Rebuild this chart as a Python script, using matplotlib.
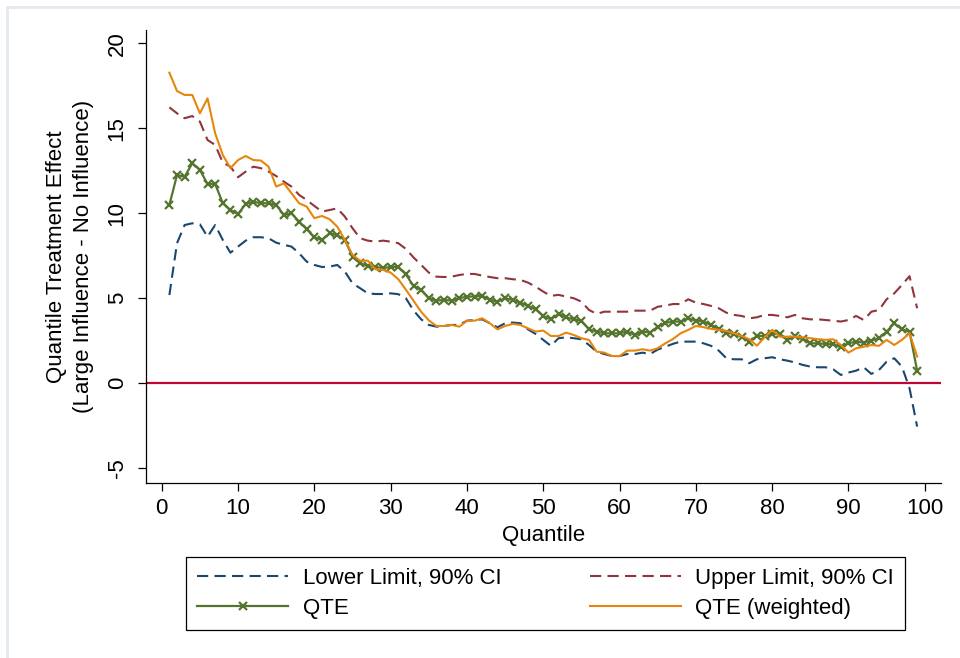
"""Quantile treatment effect plot (large vs no influence) with 90% CI bands."""

import matplotlib.pyplot as plt
import numpy as np
from matplotlib.patches import Rectangle

STYLE = {
    "font.family": ["Liberation Sans", "DejaVu Sans"],
    "font.size": 16,
    "axes.spines.top": False,
    "axes.spines.right": False,
    "axes.linewidth": 0.9,
    "axes.unicode_minus": False,
}

# Stata s2color-ish palette
PALETTE = {
    "lower": "#1a476f",
    "upper": "#90353b",
    "qte": "#55752f",
    "qte_w": "#e8850c",
    "zero": "#c10534",
}

quantiles = np.arange(1, 100)

lower_ci = [
    5.19, 8.24, 9.31, 9.41, 9.35, 8.62, 9.31, 8.43, 7.68, 8.04,
    8.39, 8.59, 8.59, 8.53, 8.27, 8.14, 8.04, 7.65, 7.15, 6.96,
    6.84, 6.86, 6.96, 6.57, 5.88, 5.59, 5.29, 5.25, 5.25, 5.29,
    5.24, 5.00, 4.28, 3.76, 3.43, 3.33, 3.37, 3.43, 3.43, 3.68,
    3.72, 3.76, 3.53, 3.29, 3.53, 3.57, 3.53, 3.17, 2.90, 2.55,
    2.20, 2.65, 2.70, 2.65, 2.59, 2.25, 1.86, 1.72, 1.60, 1.60,
    1.72, 1.72, 1.80, 1.72, 1.98, 2.15, 2.32, 2.45, 2.45, 2.45,
    2.35, 2.20, 1.92, 1.47, 1.41, 1.41, 1.18, 1.41, 1.47, 1.53,
    1.41, 1.33, 1.22, 1.08, 0.98, 0.94, 0.94, 0.82, 0.49, 0.63,
    0.74, 0.94, 0.55, 0.78, 1.27, 1.47, 0.98, -0.29, -2.55,
]

upper_ci = [
    16.23, 15.88, 15.59, 15.72, 15.39, 14.31, 14.02, 12.98, 12.74, 12.12,
    12.45, 12.74, 12.65, 12.45, 12.19, 11.86, 11.57, 11.08, 10.78, 10.43,
    10.10, 10.19, 10.29, 9.80, 9.12, 8.53, 8.39, 8.33, 8.39, 8.33,
    8.24, 7.90, 7.40, 6.96, 6.51, 6.27, 6.25, 6.27, 6.37, 6.43,
    6.43, 6.33, 6.25, 6.18, 6.18, 6.12, 6.08, 5.92, 5.68, 5.39,
    5.14, 5.20, 5.10, 5.00, 4.80, 4.31, 4.08, 4.21, 4.21, 4.21,
    4.21, 4.27, 4.27, 4.27, 4.50, 4.57, 4.66, 4.66, 4.94, 4.74,
    4.66, 4.55, 4.41, 4.15, 4.02, 3.96, 3.82, 3.88, 4.02, 4.02,
    3.96, 3.88, 4.02, 3.82, 3.76, 3.76, 3.72, 3.68, 3.63, 3.72,
    3.96, 3.72, 4.21, 4.31, 4.94, 5.29, 5.78, 6.30, 4.41,
]

qte = [
    10.49, 12.25, 12.15, 12.94, 12.55, 11.72, 11.72, 10.59, 10.19, 9.96,
    10.55, 10.68, 10.59, 10.59, 10.49, 9.90, 10.00, 9.51, 9.06, 8.59,
    8.43, 8.82, 8.72, 8.43, 7.45, 7.06, 6.90, 6.84, 6.78, 6.84,
    6.85, 6.40, 5.72, 5.50, 5.00, 4.86, 4.90, 4.86, 5.00, 5.10,
    5.10, 5.15, 4.90, 4.80, 5.00, 4.90, 4.74, 4.55, 4.35, 3.96,
    3.76, 4.08, 3.88, 3.76, 3.68, 3.17, 3.04, 2.94, 2.94, 2.94,
    3.04, 2.84, 3.04, 2.98, 3.33, 3.55, 3.63, 3.63, 3.82, 3.68,
    3.63, 3.43, 3.20, 2.98, 2.90, 2.74, 2.45, 2.78, 2.78, 2.90,
    2.90, 2.55, 2.78, 2.59, 2.35, 2.35, 2.31, 2.31, 2.12, 2.35,
    2.45, 2.39, 2.51, 2.65, 3.04, 3.53, 3.17, 3.04, 0.74,
]

qte_weighted = [
    18.27, 17.19, 16.96, 16.96, 15.88, 16.76, 14.70, 13.43, 12.65, 13.13,
    13.37, 13.13, 13.10, 12.74, 11.57, 11.76, 11.18, 10.59, 10.39, 9.71,
    9.84, 9.65, 9.21, 8.43, 7.55, 7.21, 7.21, 6.71, 6.67, 6.51,
    6.12, 5.50, 4.85, 4.20, 3.70, 3.37, 3.37, 3.43, 3.33, 3.68,
    3.68, 3.82, 3.53, 3.17, 3.37, 3.49, 3.43, 3.23, 3.04, 3.10,
    2.78, 2.78, 2.98, 2.84, 2.65, 2.55, 1.86, 1.80, 1.60, 1.60,
    1.92, 1.92, 2.00, 1.92, 2.06, 2.35, 2.60, 2.94, 3.14, 3.37,
    3.30, 3.20, 3.14, 3.08, 2.94, 2.78, 2.59, 2.21, 2.70, 3.14,
    2.74, 2.74, 2.74, 2.70, 2.65, 2.59, 2.55, 2.59, 2.25, 1.80,
    2.06, 2.15, 2.25, 2.20, 2.55, 2.25, 2.55, 2.94, 1.57,
]

x_ticks = np.arange(0, 101, 10)
y_ticks = [-5, 0, 5, 10, 15, 20]


def plot_qte(png_path="out.png"):
    dash = (5.4, 3.0)
    with plt.rc_context(STYLE):
        fig = plt.figure(figsize=(9.6, 6.58), dpi=100)
        ax = fig.add_axes([0.1518, 0.2664, 0.8282, 0.688])

        ax.axhline(0, color=PALETTE["zero"], linewidth=1.6, zorder=1)

        ax.plot(quantiles, lower_ci, color=PALETTE["lower"], linewidth=1.5,
                dashes=dash, label="Lower Limit, 90% CI")
        ax.plot(quantiles, upper_ci, color=PALETTE["upper"], linewidth=1.5,
                dashes=dash, label="Upper Limit, 90% CI")
        ax.plot(quantiles, qte, color=PALETTE["qte"], linewidth=1.6,
                marker="x", markersize=5.5, markeredgewidth=1.6, label="QTE")
        ax.plot(quantiles, qte_weighted, color=PALETTE["qte_w"], linewidth=1.5,
                label="QTE (weighted)")

        ax.set_xlim(-2.1, 102.1)
        ax.set_ylim(-5.85, 20.78)
        ax.set_xticks(x_ticks)
        ax.set_yticks(y_ticks)
        ax.tick_params(axis="both", length=6, width=0.9, labelsize=16)
        ax.tick_params(axis="y", pad=7)
        ax.tick_params(axis="x", pad=5)
        for lab in ax.get_yticklabels():
            lab.set_rotation(90)
            lab.set_verticalalignment("center")

        ax.set_xlabel("Quantile", fontsize=16, labelpad=4)
        ax.set_ylabel("Quantile Treatment Effect\n(Large Influence - No Influence)",
                      fontsize=16, labelpad=9, linespacing=1.4)

        handles, labels = ax.get_legend_handles_labels()
        order = [0, 2, 1, 3]
        leg = fig.legend([handles[i] for i in order], [labels[i] for i in order],
                         ncol=2, loc="upper left", mode="expand",
                         bbox_to_anchor=(186 / 960, 25 / 658, 719 / 960, 76 / 658),
                         fancybox=False, edgecolor="black", framealpha=1,
                         handlelength=4.1, fontsize=16, borderpad=0.5,
                         handletextpad=0.65, labelspacing=0.4,
                         borderaxespad=0)
        leg.get_frame().set_linewidth(0.9)

        # faint outer border like the original export
        fig.patches.append(Rectangle((7 / 960, -0.1), 1, 1.1 - 7 / 658,
                                     transform=fig.transFigure, fill=False,
                                     edgecolor="#e4e9ef", linewidth=2))

        fig.savefig(png_path, dpi=100)
        plt.close(fig)


if __name__ == "__main__":
    plot_qte()
